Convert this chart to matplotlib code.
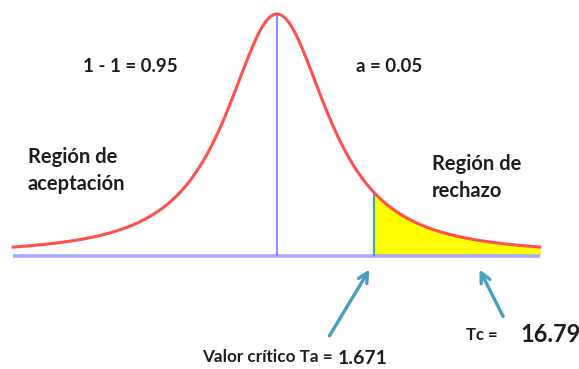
import numpy as np
import matplotlib
matplotlib.use("Agg")
import matplotlib.pyplot as plt

# values
alpha_label = "a = 0.05"
conf_label = "1 - 1 = 0.95"
accept_label = ["Región de", "aceptación"]
reject_label = ["Región de", "rechazo"]
t_crit = 1.671
t_calc = 16.79
x_lo, x_hi = -4.55, 4.53
df = 1.5
scale = 0.98

W, H = 579, 369
fig = plt.figure(figsize=(W / 100, H / 100), dpi=100)
ax = fig.add_axes([0, 0, 1, 1])
ax.axis("off")

px = 58.0  # pixels per unit
x0 = 277.0
base_px = 114.0
peak_px = 241.0
ax.set_xlim(-x0 / px, (W - x0) / px)
ax.set_ylim(-base_px / peak_px, (H - base_px) / peak_px)


def dens(u):
    return (1.0 + (u / scale) ** 2 / df) ** (-(df + 1) / 2)


x = np.linspace(x_lo, x_hi, 600)
y = dens(x)

# rejection region
m = x >= t_crit
ax.fill_between(x[m], 0, y[m], color="#ffff00", zorder=1)

ax.plot([x_lo, x_hi], [-0.005, -0.005], color="#a8a8ff", lw=2.6, zorder=2,
        solid_capstyle="butt")
ax.plot(x, y, color="#ff4f4f", lw=2.2, zorder=4)
ax.plot([0, 0], [0, 1.0], color="#7777ff", lw=1.2, zorder=3)
ax.plot([t_crit, t_crit], [0, dens(t_crit)], color="#3fa0cc", lw=1.6, zorder=3)

arrow_kw = dict(arrowstyle="->,head_length=0.7,head_width=0.35",
                color="#4a9fbf", lw=2.4)
ax.annotate("", xy=(1.62, -0.05), xytext=(0.88, -0.345),
            arrowprops=arrow_kw)
ax.annotate("", xy=(3.47, -0.05), xytext=(3.92, -0.265),
            arrowprops=arrow_kw)

fam = ["Lato", "DejaVu Sans"]
tc = "#1e1e1e"


def ftext(xp, yp, s, **kw):
    fig.text(xp / W, 1 - yp / H, s, family=fam, color=tc,
             fontweight="bold", va="center", **kw)


ftext(130, 66, conf_label, fontsize=13.5, ha="center")
ftext(389, 66, alpha_label, fontsize=13.5, ha="center")
for i, line in enumerate(accept_label):
    ftext(28, 157 + 27 * i, line, fontsize=14.5, ha="left")
for i, line in enumerate(reject_label):
    ftext(432, 164 + 27 * i, line, fontsize=14.5, ha="left")
ftext(333, 357, "Valor crítico Ta =", fontsize=12.3, ha="right")
ftext(338, 358, f"{t_crit}", fontsize=14, ha="left")
ftext(466, 335, "Tc =", fontsize=12, ha="left")
ftext(520, 335, f"{t_calc}", fontsize=17, ha="left")

fig.savefig("out.png", dpi=100, facecolor="white")
